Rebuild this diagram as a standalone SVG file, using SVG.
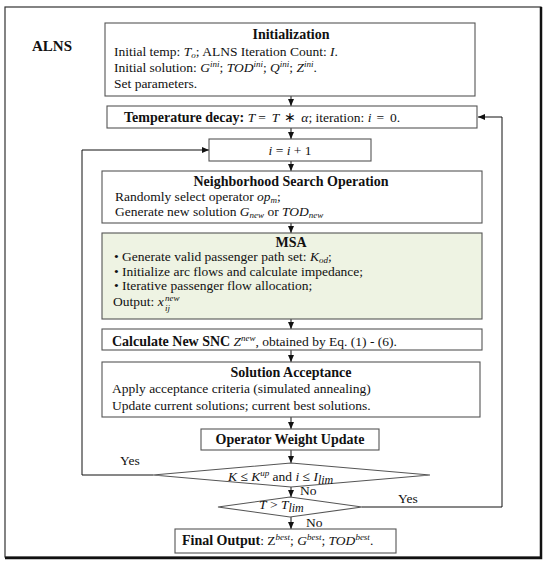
<svg xmlns="http://www.w3.org/2000/svg" width="550" height="567" viewBox="0 0 550 567">
<style>
  text{font-family:"Liberation Serif","Times New Roman",serif;font-size:13.5px;fill:#111}
  .b{font-weight:bold;font-size:14px}
  .m{font-style:italic}
  .s{font-size:9px}
  .box{fill:#fff;stroke:#555;stroke-width:1.1}
  .green{fill:#eef3e3}
  .ln{fill:none;stroke:#111;stroke-width:1}
</style>
<defs>
  <marker id="ar" markerWidth="8" markerHeight="8" refX="7" refY="4" orient="auto" markerUnits="userSpaceOnUse">
    <path d="M0,1 L7,4 L0,7 Z" fill="#111"/>
  </marker>
</defs>
<rect width="550" height="567" fill="#fff"/>
<g id="frame">
  <rect x="5" y="7" width="536" height="550" fill="none" stroke="#333" stroke-width="1.2"/>
  <path d="M541,7 V558 H5" fill="none" stroke="#111" stroke-width="2.5"/>
  <text x="32" y="51" class="b" style="font-size:15px">ALNS</text>
</g>
<g id="connectors">
  <line class="ln" x1="291" y1="96" x2="291" y2="106" marker-end="url(#ar)"/>
  <line class="ln" x1="291" y1="128" x2="291" y2="139" marker-end="url(#ar)"/>
  <line class="ln" x1="291" y1="161" x2="291" y2="171" marker-end="url(#ar)"/>
  <line class="ln" x1="291" y1="223" x2="291" y2="233" marker-end="url(#ar)"/>
  <line class="ln" x1="291" y1="319" x2="291" y2="329" marker-end="url(#ar)"/>
  <line class="ln" x1="291" y1="350" x2="291" y2="362" marker-end="url(#ar)"/>
  <line class="ln" x1="291" y1="417" x2="291" y2="429" marker-end="url(#ar)"/>
  <line class="ln" x1="291" y1="450" x2="291" y2="463" marker-end="url(#ar)"/>
  <line class="ln" x1="291" y1="487" x2="291" y2="497" marker-end="url(#ar)"/>
  <line class="ln" x1="291" y1="517" x2="291" y2="529" marker-end="url(#ar)"/>
  <polyline class="ln" points="153,475 82,475 82,150 209,150" marker-end="url(#ar)"/>
  <polyline class="ln" points="362,507 502,507 502,117 478,117" marker-end="url(#ar)"/>
  <text x="120" y="465">Yes</text>
  <text x="300" y="495">No</text>
  <text x="398" y="503">Yes</text>
  <text x="306" y="527">No</text>
</g>
<g id="init">
  <rect class="box" x="105" y="23" width="370" height="73"/>
  <text x="291" y="39" class="b" text-anchor="middle">Initialization</text>
  <text x="114" y="56">Initial temp: <tspan class="m">T</tspan><tspan class="m s" dy="2">o</tspan><tspan dy="-2">;  ALNS Iteration Count: </tspan><tspan class="m">I</tspan>.</text>
  <text x="114" y="72">Initial solution: <tspan class="m">G</tspan><tspan class="m s" dy="-5">ini</tspan><tspan dy="5">; </tspan><tspan class="m">TOD</tspan><tspan class="m s" dy="-5">ini</tspan><tspan dy="5">; </tspan><tspan class="m">Q</tspan><tspan class="m s" dy="-5">ini</tspan><tspan dy="5">; </tspan><tspan class="m">Z</tspan><tspan class="m s" dy="-5">ini</tspan><tspan dy="5">.</tspan></text>
  <text x="114" y="88">Set parameters.</text>
</g>
<g id="temp">
  <rect class="box" x="107" y="106" width="370" height="22"/>
  <text x="124" y="122"><tspan class="b">Temperature decay: </tspan><tspan class="m">T</tspan><tspan dx="3">=</tspan><tspan class="m" dx="6">T</tspan><tspan dx="5">∗</tspan><tspan class="m" dx="5">α</tspan>; iteration: <tspan class="m">i</tspan><tspan dx="5">=</tspan><tspan dx="6">0.</tspan></text>
</g>
<g id="inc">
  <rect class="box" x="209" y="139" width="162" height="22"/>
  <text x="290" y="155" text-anchor="middle"><tspan class="m">i</tspan> = <tspan class="m">i</tspan> + 1</text>
</g>
<g id="ns">
  <rect class="box" x="102" y="171" width="380" height="52"/>
  <text x="291" y="186" class="b" text-anchor="middle">Neighborhood Search Operation</text>
  <text x="115" y="201">Randomly select operator <tspan class="m">op</tspan><tspan class="m s" dy="1.5">m</tspan><tspan dy="-1.5">;</tspan></text>
  <text x="115" y="216">Generate new solution <tspan class="m">G</tspan><tspan class="m s" dy="2">new</tspan><tspan dy="-2"> or </tspan><tspan class="m">TOD</tspan><tspan class="m s" dy="2">new</tspan></text>
</g>
<g id="msa">
  <rect class="box green" x="102" y="233" width="380" height="86"/>
  <text x="291" y="247" class="b" text-anchor="middle">MSA</text>
  <text x="114" y="261">• Generate valid passenger path set: <tspan class="m">K</tspan><tspan class="m s" dy="2">od</tspan><tspan dy="-2">;</tspan></text>
  <text x="114" y="276">• Initialize arc flows and calculate impedance;</text>
  <text x="114" y="290">• Iterative passenger flow allocation;</text>
  <text x="113" y="306">Output: <tspan class="m">x</tspan></text>
  <text x="165" y="301" class="m s">new</text>
  <text x="165" y="311" class="m s">ij</text>
</g>
<g id="snc">
  <rect class="box" x="102" y="329" width="380" height="21"/>
  <text x="112" y="346"><tspan class="b">Calculate New SNC</tspan>   <tspan class="m">Z</tspan><tspan class="m s" dy="-5">new</tspan><tspan dy="5">, obtained by Eq. (1) - (6).</tspan></text>
</g>
<g id="sa">
  <rect class="box" x="102" y="362" width="378" height="55"/>
  <text x="291" y="377" class="b" text-anchor="middle">Solution Acceptance</text>
  <text x="112" y="393">Apply acceptance criteria (simulated annealing)</text>
  <text x="112" y="410">Update current solutions; current best solutions.</text>
</g>
<g id="owu">
  <rect class="box" x="201" y="429" width="178" height="21"/>
  <text x="290" y="444" class="b" text-anchor="middle">Operator Weight Update</text>
</g>
<g id="d1">
  <polygon class="box" points="153,475 291,463 430,475 291,487"/>
  <text x="228" y="481"><tspan class="m">K</tspan> ≤ <tspan class="m">K</tspan><tspan class="m s" dy="-5">up</tspan><tspan dy="5"> and </tspan><tspan class="m">i</tspan> ≤ <tspan class="m">I</tspan><tspan class="m" dy="3" style="font-size:12px">lim</tspan></text>
</g>
<g id="d2">
  <polygon class="box" points="218,507 290,497 362,507 290,517"/>
  <text x="259" y="509"><tspan class="m">T</tspan> &gt; <tspan class="m">T</tspan><tspan class="m" dy="3" style="font-size:12px">lim</tspan></text>
</g>
<g id="final">
  <rect class="box" x="175" y="529" width="221" height="24"/>
  <text x="182" y="545"><tspan class="b">Final Output</tspan>:  Z<tspan class="m s" dy="-5">best</tspan><tspan dy="5">; </tspan><tspan class="m">G</tspan><tspan class="m s" dy="-5">best</tspan><tspan dy="5">; </tspan><tspan class="m">TOD</tspan><tspan class="m s" dy="-5">best</tspan><tspan dy="5">.</tspan></text>
</g>
</svg>
